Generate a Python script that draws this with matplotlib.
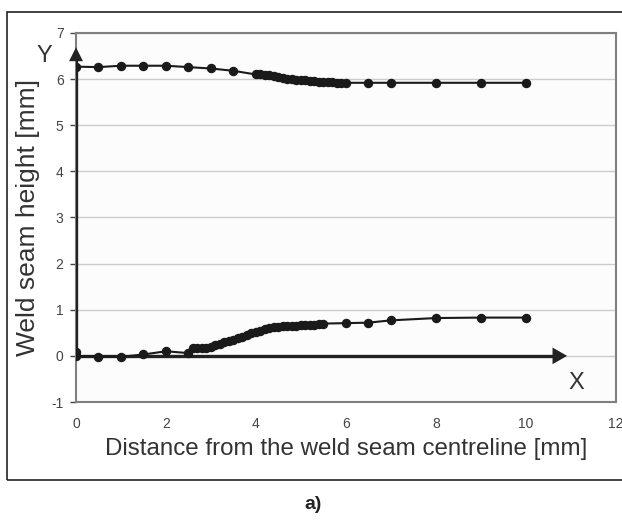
import matplotlib.pyplot as plt
from matplotlib.patches import Rectangle

plt.rcParams['font.family'] = ['Liberation Sans', 'DejaVu Sans']
plt.rcParams['axes.unicode_minus'] = False

# upper surface of the seam
x_top = [0, 0.5, 1, 1.5, 2, 2.5, 3, 3.5, 4.0, 4.1, 4.2, 4.3, 4.4, 4.5, 4.6, 4.7,
         4.8, 4.9, 5.0, 5.1, 5.2, 5.3, 5.4, 5.5, 5.6, 5.7, 5.8, 5.9, 6.0, 6.5,
         7, 8, 9, 10]
y_top = [6.27, 6.26, 6.29, 6.29, 6.29, 6.26, 6.23, 6.18, 6.1, 6.1, 6.09, 6.09,
         6.07, 6.05, 6.03, 6.01, 6.0, 5.99, 5.98, 5.97, 5.96, 5.95, 5.94, 5.94,
         5.93, 5.93, 5.92, 5.92, 5.92, 5.92, 5.92, 5.92, 5.92, 5.92]

# root side of the seam
x_bot = [0, 0, 0.5, 1, 1.5, 2, 2.5, 2.6, 2.7, 2.8, 2.9, 3.0, 3.1, 3.2, 3.3, 3.4,
         3.5, 3.6, 3.7, 3.8, 3.9, 4.0, 4.1, 4.2, 4.3, 4.4, 4.5, 4.6, 4.7, 4.8,
         4.9, 5.0, 5.1, 5.2, 5.3, 5.4, 5.5, 6.0, 6.5, 7, 8, 9, 10]
y_bot = [0.08, 0.0, -0.02, -0.02, 0.03, 0.1, 0.06, 0.17, 0.18, 0.18, 0.18, 0.2,
         0.23, 0.26, 0.29, 0.32, 0.35, 0.39, 0.42, 0.45, 0.49, 0.52, 0.55, 0.58,
         0.6, 0.62, 0.63, 0.64, 0.64, 0.65, 0.65, 0.66, 0.67, 0.67, 0.68, 0.69,
         0.7, 0.71, 0.72, 0.77, 0.82, 0.83, 0.83]

x_ticks = [0, 2, 4, 6, 8, 10, 12]
y_ticks = [-1, 0, 1, 2, 3, 4, 5, 6, 7]

fig = plt.figure(figsize=(6.22, 5.21), dpi=100)
fig.patches.append(Rectangle((0.0113, 0.0787), 1.2, 0.8983, transform=fig.transFigure,
                             fill=False, edgecolor='#222222', linewidth=1.2))

ax = fig.add_axes([0.1222, 0.2284, 0.8678, 0.7083])
ax.set_facecolor('#fcfcfc')
ax.set_xlim(0, 12)
ax.set_ylim(-1, 7)
ax.set_xticks(x_ticks)
ax.set_yticks(y_ticks)
ax.yaxis.grid(True, color='#cccccc', linewidth=1.0)
ax.set_axisbelow(True)
for s in ax.spines.values():
    s.set_color('#808080')
    s.set_linewidth(1.5)
ax.tick_params(colors='#444444', labelsize=10, length=4, width=1, pad=5)
ax.tick_params(axis='x', length=0, pad=11)

# coordinate arrows
ax.plot([0, 0], [0, 6.4], color='#222222', lw=2.4, zorder=3)
ax.plot([0, 10.6], [0, 0], color='#222222', lw=2.4, zorder=3)
ax.annotate('', xy=(0, 6.75), xytext=(0, 6.3),
            arrowprops=dict(arrowstyle='-|>,head_length=1.0,head_width=0.5',
                            color='#222222', lw=0), zorder=4)
ax.annotate('', xy=(10.98, 0), xytext=(10.5, 0),
            arrowprops=dict(arrowstyle='-|>,head_length=1.05,head_width=0.6',
                            color='#222222', lw=0), zorder=4)
ax.text(-0.53, 6.5, 'Y', fontsize=17, color='#333333', ha='right', va='center')
ax.text(11.13, -0.59, 'X', fontsize=17, color='#333333', ha='center', va='center')

ax.plot(x_top, y_top, color='#1a1a1a', lw=1.5, marker='o', ms=5.8, zorder=5)
ax.plot(x_bot, y_bot, color='#1a1a1a', lw=1.5, marker='o', ms=5.8, zorder=5)

ax.set_xlabel('Distance from the weld seam centreline [mm]', fontsize=17.4,
              color='#333333', labelpad=5)
ax.set_ylabel('Weld seam height [mm]', fontsize=19, color='#333333', labelpad=8)

fig.text(0.503, 0.031, 'a)', fontsize=14, fontweight='bold', ha='center',
         va='center', color='#222222')

fig.savefig('out.png', dpi=100)
